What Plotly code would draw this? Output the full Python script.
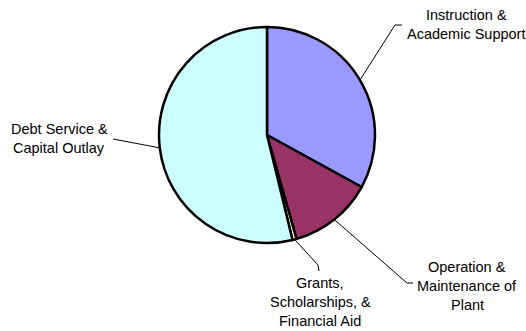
import math
import plotly.graph_objects as go

W, H = 526, 331

# Expenditure categories and shares (percent)
categories = [
    "Instruction & Academic Support",
    "Operation & Maintenance of Plant",
    "Grants, Scholarships, & Financial Aid",
    "Debt Service & Capital Outlay",
]
shares = [33.0, 12.6, 0.6, 53.8]
colors = ["#9999FF", "#993366", "#FFFFCC", "#CCFFFF"]

# Label text, split into lines
label_lines = [
    ["Instruction &", "Academic Support"],
    ["Operation &", "Maintenance of", "Plant"],
    ["Grants,", "Scholarships, &", "Financial Aid"],
    ["Debt Service &", "Capital Outlay"],
]

# Pie placement (pixels)
CX, CY, R = 267, 135, 108
# Label block centres (x, first-line y) and leader-line elbows
label_pos = [(466, 15), (467, 267), (320, 283), (59, 129)]
elbows = [
    [(395, 25), (402, 25)],
    [(407, 283), (413, 283)],
    [(318, 265), (319, 271)],
    [(113, 139), (113, 139)],
]
LINE_GAP = 19
FONT = dict(family="Arial, Liberation Sans, sans-serif", size=14.5, color="#000000")


def px(x, y):
    return x / W, 1 - y / H


fig = go.Figure(
    go.Pie(
        labels=categories,
        values=shares,
        sort=False,
        direction="clockwise",
        rotation=0,
        marker=dict(colors=colors, line=dict(color="#000000", width=2.5)),
        textinfo="none",
        hoverinfo="label+percent",
        domain=dict(
            x=[(CX - R) / W, (CX + R) / W],
            y=[(H - CY - R) / H, (H - CY + R) / H],
        ),
        showlegend=False,
    )
)

total = sum(shares)
cum = 0.0
shapes = []
annotations = []
for vals, lines, (lx, ly), elbow in zip(shares, label_lines, label_pos, elbows):
    mid = (cum + vals / 2) / total * 2 * math.pi
    cum += vals
    ex = CX + R * math.sin(mid)
    ey = CY - R * math.cos(mid)
    pts = [(ex, ey)] + elbow
    path = "M " + " L ".join("{:.5f},{:.5f}".format(*px(x, y)) for x, y in pts)
    shapes.append(dict(type="path", path=path, xref="paper", yref="paper",
                       line=dict(color="#000000", width=1)))
    for i, t in enumerate(lines):
        ax, ay = px(lx, ly + i * LINE_GAP)
        annotations.append(dict(text=t, x=ax, y=ay, xref="paper", yref="paper",
                                xanchor="center", yanchor="middle",
                                showarrow=False, font=FONT))

fig.update_layout(
    width=W, height=H,
    margin=dict(l=0, r=0, t=0, b=0),
    paper_bgcolor="#FFFFFF",
    plot_bgcolor="#FFFFFF",
    shapes=shapes,
    annotations=annotations,
)

fig.write_html("out.html")
